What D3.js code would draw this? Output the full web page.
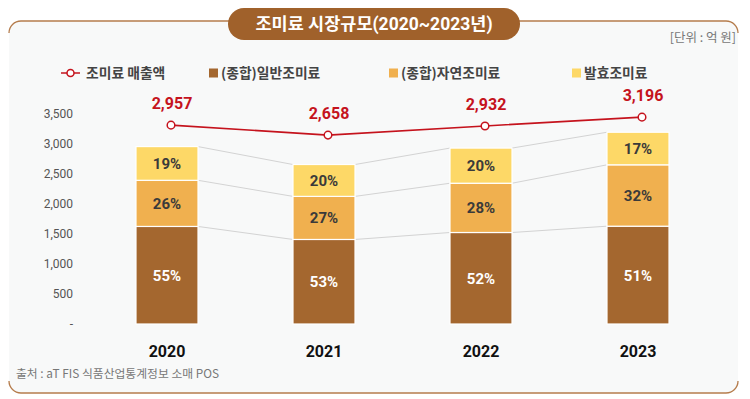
<!DOCTYPE html>
<html>
<head>
<meta charset="utf-8">
<script src="https://cdn.jsdelivr.net/npm/d3@7/dist/d3.min.js"></script>
<style>
  html, body { margin: 0; padding: 0; background: #ffffff; }
  svg { display: block; }
</style>
</head>
<body>
<svg id="chart" width="750" height="399"></svg>
<script>
// ---------- DATA ----------
const years = ["2020", "2021", "2022", "2023"];
const general = [1626, 1409, 1525, 1630];      // (종합)일반조미료 (억 원)
const natural = [769, 718, 821, 1023];         // (종합)자연조미료
const fermented = [562, 531, 586, 543];        // 발효조미료
const sales = [2957, 2658, 2932, 3196];        // 조미료 매출액
const yTicks = [0, 500, 1000, 1500, 2000, 2500, 3000, 3500];
const seriesNames = ["(종합)일반조미료", "(종합)자연조미료", "발효조미료"];
const lineName = "조미료 매출액";
const titleText = "조미료 시장규모(2020~2023년)";
const unitText = "[단위 : 억 원]";
const sourceText = "출처 : aT FIS 식품산업통계정보 소매 POS";

// ---------- STYLE ----------
const colors = ["#a4672f", "#f0b04f", "#fdd867"];
const lineColor = "#c5131d";
const FONT = "Roboto, 'Noto Sans CJK KR', sans-serif";
const KFONT = "'Noto Sans CJK KR', Roboto, sans-serif";

const svg = d3.select("#chart");

// ---------- PANEL ----------
const L = 9, R = 738, T = 21, B = 393, rad = 12;
svg.append("rect").attr("x", L).attr("y", T).attr("width", R - L).attr("height", B - T)
  .attr("rx", rad).attr("fill", "#f8f9f9");
svg.append("path")
  .attr("d", `M${L},${T + rad} A${rad},${rad} 0 0 1 ${L + rad},${T} L${R - rad},${T} A${rad},${rad} 0 0 1 ${R},${T + rad}`)
  .attr("fill", "none").attr("stroke", "#b57c4c").attr("stroke-width", 1.3);
svg.append("path")
  .attr("d", `M${L},${B - rad} A${rad},${rad} 0 0 0 ${L + rad},${B} L${R - rad},${B} A${rad},${rad} 0 0 0 ${R},${B - rad}`)
  .attr("fill", "none").attr("stroke", "#b57c4c").attr("stroke-width", 1.3);

// title pill
svg.append("rect").attr("x", 228).attr("y", 8).attr("width", 292).attr("height", 32)
  .attr("rx", 16).attr("fill", "#a0612b");
svg.append("text").attr("x", 374).attr("y", 30).attr("text-anchor", "middle")
  .attr("font-family", FONT).attr("font-size", 17.5).attr("font-weight", "bold")
  .attr("fill", "#ffffff").text(titleText);

svg.append("text").attr("x", 736).attr("y", 42).attr("text-anchor", "end")
  .attr("font-family", KFONT).attr("font-size", 12.5).attr("fill", "#777")
  .text(unitText);

// ---------- SCALES ----------
const x = d3.scaleBand().domain(years).range([88.5, 716.5])
  .paddingInner(0.605).paddingOuter(0.3025);
const y = d3.scaleLinear().domain([0, 3500]).range([324, 114]);
// secondary (hidden) axis for the sales line
const xLine = d3.scalePoint().domain(years).range([171, 642]);
const yLine = d3.scaleLinear().domain([-3000, 3500]).range([324, 107]);

// ---------- Y AXIS ----------
const yAxis = d3.axisLeft(y).tickValues(yTicks)
  .tickFormat(d => d === 0 ? "-" : d3.format(",")(d)).tickSize(0).tickPadding(0);
const gy = svg.append("g").attr("transform", "translate(73,0)").call(yAxis);
gy.select(".domain").remove();
gy.selectAll("text").attr("font-family", FONT).attr("font-size", 12).attr("fill", "#555");

// ---------- X AXIS ----------
const xAxis = d3.axisBottom(x).tickSize(0).tickPadding(0);
const gx = svg.append("g").attr("transform", "translate(0,346)").call(xAxis);
gx.select(".domain").remove();
gx.selectAll("text").attr("font-family", FONT).attr("font-size", 16)
  .attr("font-weight", "bold").attr("fill", "#111");

// ---------- STACK ----------
const table = years.map((yr, i) => ({ year: yr, g: general[i], n: natural[i], f: fermented[i] }));
const stack = d3.stack().keys(["g", "n", "f"]);
const layers = stack(table);

// connector lines
layers.forEach(layer => {
  for (let i = 0; i < years.length - 1; i++) {
    svg.append("line")
      .attr("x1", x(years[i]) + x.bandwidth()).attr("y1", y(layer[i][1]))
      .attr("x2", x(years[i + 1])).attr("y2", y(layer[i + 1][1]))
      .attr("stroke", "#d3d3d3").attr("stroke-width", 1);
  }
});

const totals = table.map(d => d.g + d.n + d.f);
layers.forEach((layer, li) => {
  const g = svg.append("g");
  g.selectAll("rect").data(layer).join("rect")
    .attr("x", d => x(d.data.year)).attr("width", x.bandwidth())
    .attr("y", d => y(d[1])).attr("height", d => y(d[0]) - y(d[1]))
    .attr("fill", colors[li]).attr("stroke", "#ffffff").attr("stroke-width", 1.2);
  g.selectAll("text").data(layer).join("text")
    .attr("x", d => x(d.data.year) + x.bandwidth() / 2)
    .attr("y", d => (y(d[0]) + y(d[1])) / 2 + 5.5)
    .attr("text-anchor", "middle")
    .attr("font-family", FONT).attr("font-size", 15).attr("font-weight", "bold")
    .attr("fill", li === 0 ? "#ffffff" : "#3a3a3a")
    .text((d, i) => Math.round((d[1] - d[0]) / totals[i] * 100) + "%");
});

// ---------- LINE ----------
const line = d3.line().x((d, i) => xLine(years[i])).y(d => yLine(d));
svg.append("path").datum(sales).attr("d", line)
  .attr("fill", "none").attr("stroke", lineColor).attr("stroke-width", 1.6);
svg.selectAll(".mk").data(sales).join("circle").attr("class", "mk")
  .attr("cx", (d, i) => xLine(years[i])).attr("cy", d => yLine(d)).attr("r", 3.8)
  .attr("fill", "#fff").attr("stroke", lineColor).attr("stroke-width", 1.5);
svg.selectAll(".vl").data(sales).join("text").attr("class", "vl")
  .attr("x", (d, i) => xLine(years[i]) + 1).attr("y", d => yLine(d) - 16)
  .attr("text-anchor", "middle").attr("font-family", FONT).attr("font-size", 16)
  .attr("font-weight", "bold").attr("fill", lineColor)
  .text(d => d3.format(",")(d));

// ---------- LEGEND ----------
const ly = 73;
const lg = svg.append("g");
lg.append("line").attr("x1", 61).attr("x2", 80).attr("y1", ly).attr("y2", ly)
  .attr("stroke", lineColor).attr("stroke-width", 1.5);
lg.append("circle").attr("cx", 70.5).attr("cy", ly).attr("r", 3.5)
  .attr("fill", "#fff").attr("stroke", lineColor).attr("stroke-width", 1.5);
lg.append("text").attr("x", 86).attr("y", ly + 5).attr("font-family", KFONT)
  .attr("font-size", 13.8).attr("font-weight", "bold").attr("fill", "#444").text(lineName);
const legX = [209, 389, 572];
seriesNames.forEach((nm, i) => {
  lg.append("rect").attr("x", legX[i]).attr("y", ly - 4.5).attr("width", 9).attr("height", 9)
    .attr("fill", colors[i]);
  lg.append("text").attr("x", legX[i] + 12).attr("y", ly + 5).attr("font-family", KFONT)
    .attr("font-size", 13.8).attr("font-weight", "bold").attr("fill", "#444").text(nm);
});

// ---------- SOURCE ----------
svg.append("text").attr("x", 16).attr("y", 378).attr("font-family", KFONT)
  .attr("font-size", 11.8).attr("fill", "#777").text(sourceText);
</script>
</body>
</html>
